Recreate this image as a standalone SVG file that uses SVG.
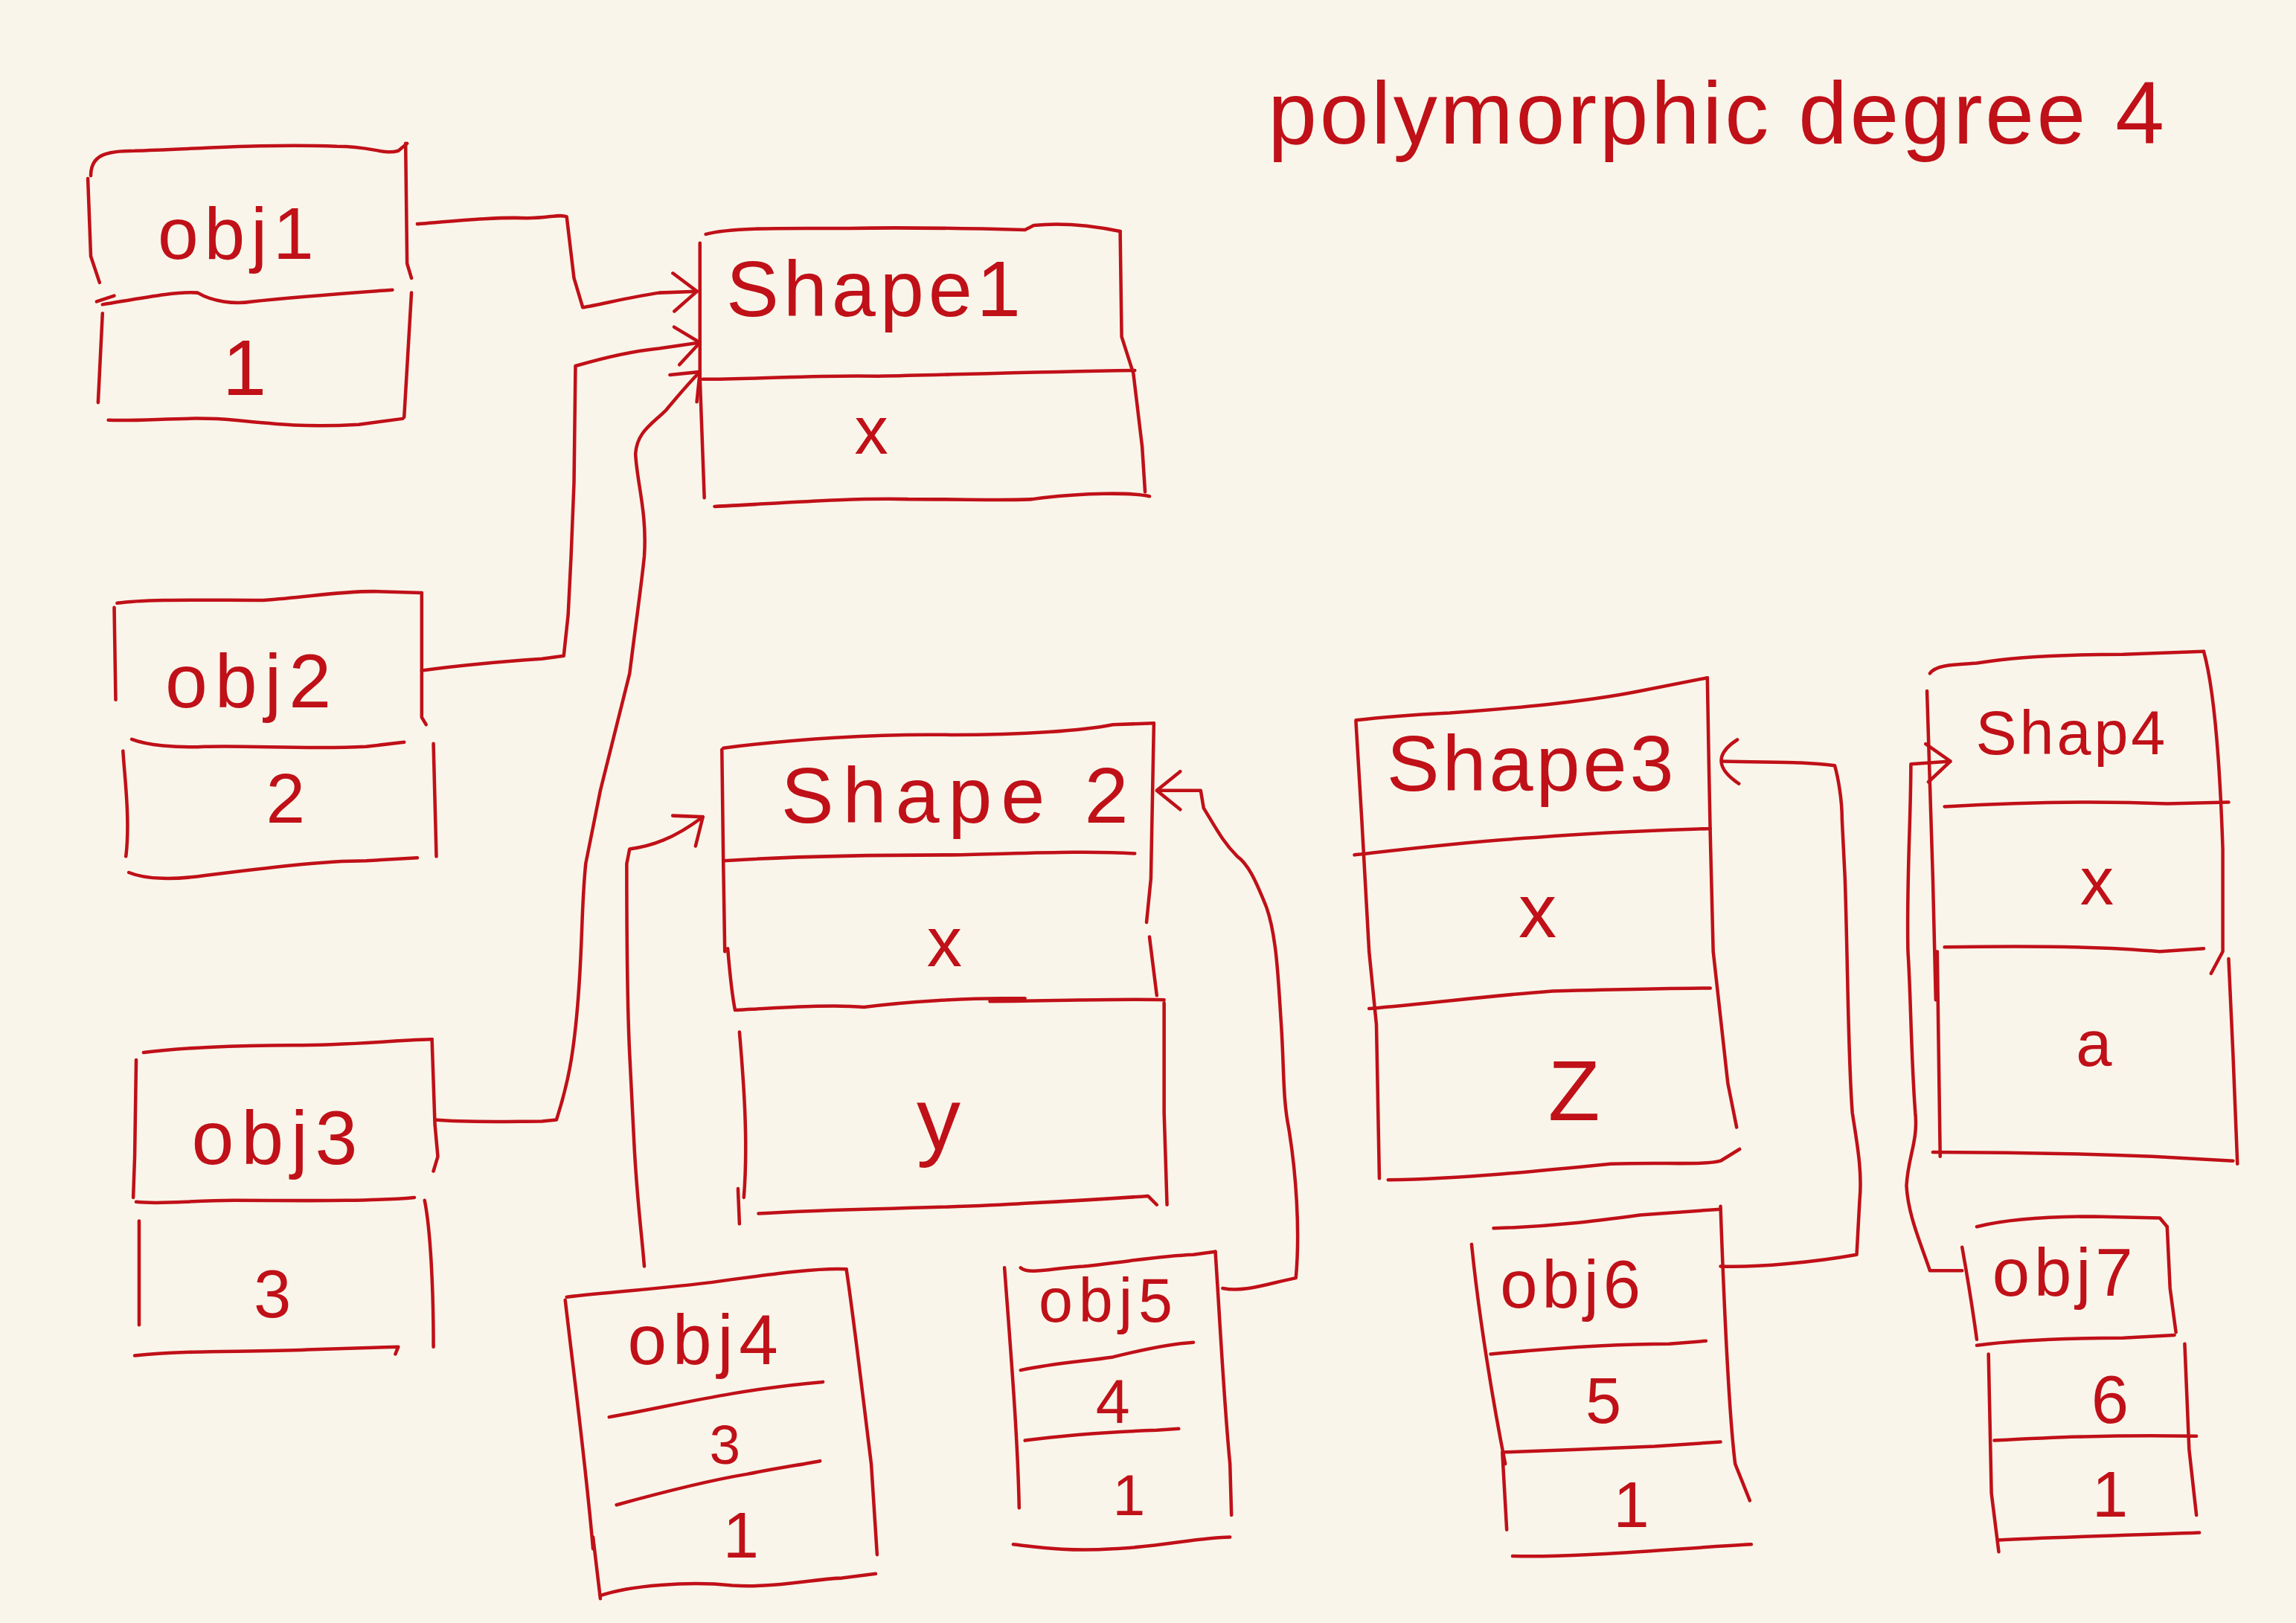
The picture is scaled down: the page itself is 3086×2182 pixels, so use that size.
<svg xmlns="http://www.w3.org/2000/svg" width="3086" height="2182" viewBox="0 0 3086 2182">
<style>
.s{fill:none;stroke:#c01018;stroke-width:2.3;stroke-linecap:round;stroke-linejoin:round}
.t{fill:#c01018;font-family:"Liberation Sans","DejaVu Sans",sans-serif;text-anchor:middle}
</style>
<rect width="3086" height="2182" fill="#f9f5ea"/>
<g transform="scale(1.9681)">
<defs>
<marker id="arr" viewBox="0 0 20 30" refX="19" refY="15" markerWidth="20" markerHeight="30" orient="auto" markerUnits="userSpaceOnUse">
<path d="M3,2 L19,15 L3,28" fill="none" stroke="#c01018" stroke-width="2.3" stroke-linecap="round"/>
</marker>
<marker id="arc" viewBox="0 0 20 34" refX="14" refY="17" markerWidth="20" markerHeight="34" orient="auto" markerUnits="userSpaceOnUse">
<path d="M2,2 Q26,17 4,32" fill="none" stroke="#c01018" stroke-width="2.3" stroke-linecap="round"/>
</marker>
</defs>

<text id="title" class="t" x="1172" y="98" font-size="60" textLength="612" lengthAdjust="spacing">polymorphic degree 4</text>

<g id="obj1">
<path class="s" d="M62,120 C62,106 72,103 92,103 C130,102 180,98 230,100 C255,100 262,106 272,103 L278,98"/>
<path class="s" d="M60,122 L62,175 L68,193"/>
<path class="s" d="M277,98 L278,180 L281,190"/>
<path class="s" d="M70,208 C100,203 120,199 135,200 C145,206 160,208 172,206 C200,203 240,200 268,198"/>
<path class="s" d="M66,206 L78,202"/>
<path class="s" d="M70,214 L67,275"/>
<path class="s" d="M281,200 L276,285"/>
<path class="s" d="M74,287 C100,288 130,284 160,287 C190,290 210,292 245,290 L275,286"/>
<text class="t" x="163" y="177" font-size="50" letter-spacing="4">obj1</text>
<text class="t" x="167" y="270" font-size="54">1</text>
</g>

<g id="shape1">
<path class="s" d="M482,160 C500,155 540,156 580,156 C620,155 660,156 700,157 L706,154 C725,152 745,154 765,158"/>
<path class="s" d="M478,166 L478,258 L481,340"/>
<path class="s" d="M765,158 L766,230 L774,255 L780,305 L782,336"/>
<path class="s" d="M480,259 C520,259 560,256 600,257 C650,256 700,254 775,253"/>
<path class="s" d="M488,346 C530,344 580,340 620,341 C660,341 690,342 705,341 L712,340 C740,337 770,336 785,339"/>
<text class="t" x="598" y="216" font-size="54" letter-spacing="3">Shape1</text>
<text class="t" x="595" y="310" font-size="46">x</text>
</g>

<g id="obj2">
<path class="s" d="M80,412 C100,409 140,410 180,410 C210,408 230,404 255,404 L288,405"/>
<path class="s" d="M78,415 L79,478"/>
<path class="s" d="M288,405 L288,490 L291,495"/>
<path class="s" d="M90,505 C100,509 120,511 140,510 C170,509 210,512 250,510 L276,507"/>
<path class="s" d="M84,513 C85,530 89,560 86,585"/>
<path class="s" d="M296,508 L298,585"/>
<path class="s" d="M88,596 C100,601 120,601 140,598 C180,593 220,588 250,588 L285,586"/>
<text class="t" x="172" y="483" font-size="52" letter-spacing="5">obj2</text>
<text class="t" x="195" y="562" font-size="48">2</text>
</g>

<g id="obj3">
<path class="s" d="M98,719 C120,716 160,714 200,714 C240,714 262,711 295,710"/>
<path class="s" d="M93,724 L92,790 L91,818"/>
<path class="s" d="M295,710 L297,768 L299,790 L296,800"/>
<path class="s" d="M93,821 C110,823 130,820 160,820 C200,820 250,821 283,818"/>
<path class="s" d="M95,834 L95,905"/>
<path class="s" d="M290,820 C294,840 296,880 296,920"/>
<path class="s" d="M92,926 C130,922 170,924 210,922 L272,920 L270,925"/>
<text class="t" x="190" y="795" font-size="52" letter-spacing="5">obj3</text>
<text class="t" x="186" y="900" font-size="46">3</text>
</g>

<g id="shape2">
<path class="s" d="M494,511 C540,505 600,501 650,502 C700,502 740,499 760,495 L788,494"/>
<path class="s" d="M493,512 L494,590 L495,650"/>
<path class="s" d="M497,648 C498,660 500,680 502,690"/>
<path class="s" d="M788,494 L786,600 L783,630"/>
<path class="s" d="M785,640 L790,680"/>
<path class="s" d="M494,588 C540,585 600,584 650,584 C700,583 740,581 775,583"/>
<path class="s" d="M503,690 C540,688 570,686 590,688 C620,684 660,682 685,682 L700,682"/>
<path class="s" d="M676,684 C720,684 760,682 795,683"/>
<path class="s" d="M505,705 C508,740 511,780 508,818"/>
<path class="s" d="M504,812 L505,836"/>
<path class="s" d="M795,685 L795,760 L797,823"/>
<path class="s" d="M518,829 C580,825 640,826 700,822 C740,820 770,818 784,817 L790,823"/>
<text class="t" x="655" y="562" font-size="54" letter-spacing="6">Shape 2</text>
<text class="t" x="645" y="660" font-size="48">x</text>
<text class="t" x="641" y="785" font-size="60">y</text>
</g>

<g id="obj4">
<path class="s" d="M387,886 C420,882 460,880 500,874 C530,870 560,866 578,867"/>
<path class="s" d="M578,867 C583,900 590,960 595,1000 L599,1062"/>
<path class="s" d="M386,888 C392,940 400,1000 405,1058"/>
<path class="s" d="M405,1050 L410,1092"/>
<path class="s" d="M416,968 C440,964 470,957 500,952 C530,947 550,945 562,944"/>
<path class="s" d="M421,1028 C450,1020 480,1012 510,1007 C530,1003 550,1000 560,998"/>
<path class="s" d="M410,1090 C430,1083 470,1080 500,1083 C530,1085 560,1078 575,1078 L598,1075"/>
<text class="t" x="482" y="932" font-size="48" letter-spacing="4">obj4</text>
<text class="t" x="495" y="1000" font-size="38">3</text>
<text class="t" x="506" y="1064" font-size="44">1</text>
</g>

<g id="obj5">
<path class="s" d="M697,866 C702,871 720,866 740,865 C770,862 790,858 815,857 L830,855"/>
<path class="s" d="M686,866 C690,920 695,980 696,1030"/>
<path class="s" d="M830,855 C833,900 836,960 840,1000 L841,1035"/>
<path class="s" d="M697,936 C720,931 740,930 760,927 C780,922 800,918 815,917"/>
<path class="s" d="M700,984 C730,980 760,978 790,977 L805,976"/>
<path class="s" d="M692,1055 C710,1057 730,1060 760,1058 C790,1057 820,1050 840,1050"/>
<text class="t" x="757" y="903" font-size="42" letter-spacing="4">obj5</text>
<text class="t" x="760" y="972" font-size="42">4</text>
<text class="t" x="771" y="1035" font-size="40">1</text>
</g>

<g id="shape3">
<path class="s" d="M926,492 C950,489 970,488 990,487 C1030,484 1080,480 1120,472 L1166,463"/>
<path class="s" d="M926,493 L930,560 L935,650 L940,700 L942,805"/>
<path class="s" d="M1166,463 L1167,520 L1168,570 L1170,650 L1180,740 L1186,770"/>
<path class="s" d="M925,584 C960,580 1000,575 1050,572 C1100,568 1140,567 1168,566"/>
<path class="s" d="M935,689 C980,685 1020,680 1060,677 C1100,676 1140,675 1168,675"/>
<path class="s" d="M948,806 C1000,805 1050,800 1100,795 C1140,794 1165,796 1175,793 L1188,785"/>
<text class="t" x="1046" y="540" font-size="54" letter-spacing="2">Shape3</text>
<text class="t" x="1050" y="640" font-size="52">x</text>
<text class="t" x="1075" y="765" font-size="58">Z</text>
</g>

<g id="shap4">
<path class="s" d="M1318,460 C1322,454 1335,454 1350,453 C1380,448 1420,447 1450,447 L1505,445"/>
<path class="s" d="M1316,472 L1320,600 L1322,683"/>
<path class="s" d="M1323,650 L1325,790"/>
<path class="s" d="M1505,445 C1512,470 1516,520 1518,580 L1518,650 L1510,665"/>
<path class="s" d="M1522,655 L1525,720 L1528,795"/>
<path class="s" d="M1328,551 C1380,548 1430,547 1480,549 L1522,548"/>
<path class="s" d="M1328,647 C1380,646 1430,646 1475,650 L1505,648"/>
<path class="s" d="M1320,787 C1370,787 1420,788 1470,790 L1525,793"/>
<text class="t" x="1415" y="515" font-size="42" letter-spacing="2">Shap4</text>
<text class="t" x="1432" y="618" font-size="46">x</text>
<text class="t" x="1430" y="728" font-size="44">a</text>
</g>

<g id="obj6">
<path class="s" d="M1020,839 C1060,838 1090,834 1120,830 L1175,826"/>
<path class="s" d="M1005,850 C1010,900 1020,960 1028,1000"/>
<path class="s" d="M1026,992 L1029,1045"/>
<path class="s" d="M1175,824 C1177,880 1180,960 1185,1000 L1195,1025"/>
<path class="s" d="M1018,925 C1060,921 1100,918 1140,918 L1165,916"/>
<path class="s" d="M1028,992 C1060,991 1100,989 1130,988 L1175,985"/>
<path class="s" d="M1033,1063 C1080,1064 1140,1058 1196,1055"/>
<text class="t" x="1074" y="893" font-size="46" letter-spacing="3">obj6</text>
<text class="t" x="1095" y="972" font-size="44">5</text>
<text class="t" x="1114" y="1043" font-size="44">1</text>
</g>

<g id="obj7">
<path class="s" d="M1350,838 C1370,833 1400,831 1430,831 L1475,832 L1480,838"/>
<path class="s" d="M1340,852 C1345,880 1348,900 1350,915"/>
<path class="s" d="M1480,838 L1482,880 L1486,910"/>
<path class="s" d="M1350,919 C1380,915 1420,914 1450,914 L1485,912"/>
<path class="s" d="M1358,925 L1360,1020 L1365,1060"/>
<path class="s" d="M1492,918 L1495,990 L1500,1035"/>
<path class="s" d="M1362,984 C1400,982 1440,980 1500,981"/>
<path class="s" d="M1365,1052 C1400,1050 1450,1049 1502,1047"/>
<text class="t" x="1410" y="885" font-size="46" letter-spacing="3">obj7</text>
<text class="t" x="1441" y="972" font-size="46">6</text>
<text class="t" x="1441" y="1036" font-size="44">1</text>
</g>

<g id="connectors">
<path class="s" marker-end="url(#arr)" d="M285,153 C310,151 340,148 360,149 C375,149 382,146 387,148 L392,190 L398,210 C410,208 430,203 450,200 L476,199"/>
<path class="s" marker-end="url(#arr)" d="M288,458 C310,455 340,452 370,450 L385,448 L388,420 L390,380 L392,330 L393,250 C410,245 430,240 450,238 L478,234"/>
<path class="s" marker-end="url(#arr)" d="M297,765 C320,767 350,766 370,766 L380,765 C388,740 392,720 395,680 C398,640 397,620 400,590 L410,540 C420,500 425,480 430,460 C435,420 438,400 440,380 C442,350 435,330 434,310 C435,295 445,290 455,280 C465,268 470,262 478,254"/>
<path class="s" marker-end="url(#arr)" d="M440,865 C438,840 435,820 433,780 L430,720 C428,680 428,620 428,590 L430,580 C445,578 460,573 480,558"/>
<path class="s" marker-end="url(#arr)" d="M835,880 C850,883 865,877 885,873 C888,840 885,800 880,770 C876,750 877,730 875,700 C873,670 872,640 865,620 C857,600 852,590 845,585 C835,575 830,565 822,552 L820,540 L790,540"/>
<path class="s" marker-end="url(#arc)" d="M1175,865 C1200,866 1240,862 1268,857 L1270,820 C1272,800 1268,780 1265,760 C1262,720 1262,660 1260,600 L1258,560 C1258,545 1255,530 1253,523 C1230,520 1210,521 1176,520"/>
<path class="s" marker-end="url(#arr)" d="M1340,868 L1318,868 C1312,850 1303,830 1302,810 C1303,790 1310,780 1308,760 C1305,720 1305,680 1303,650 C1302,600 1305,560 1305,522 L1332,520"/>
</g>
</g>
</svg>
